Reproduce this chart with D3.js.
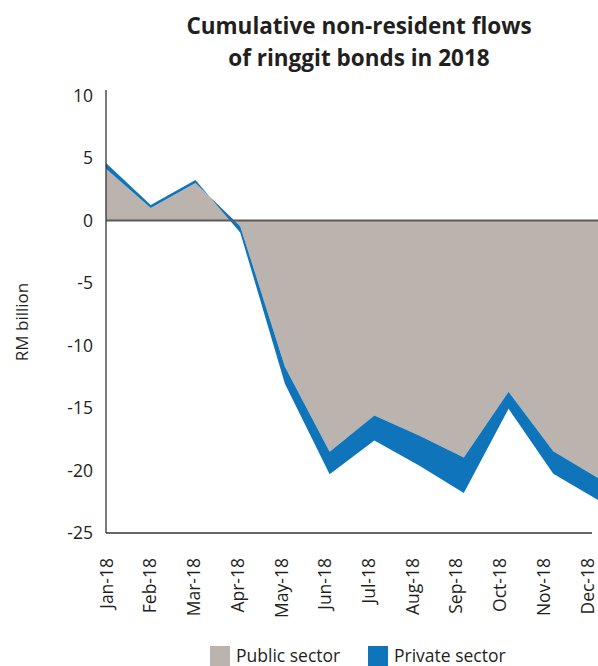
<!DOCTYPE html>
<html>
<head>
<meta charset="utf-8">
<script src="https://cdn.jsdelivr.net/npm/d3@7"></script>
<style>
  html, body { margin: 0; padding: 0; background: #fff; }
  svg { display: block; font-family: "Open Sans", "Noto Sans", sans-serif; }
</style>
</head>
<body>
<svg id="chart" width="598" height="666"></svg>
<script>
// Cumulative non-resident flows of ringgit bonds, RM billion
const months = ["Jan-18", "Feb-18", "Mar-18", "Apr-18", "May-18", "Jun-18",
                "Jul-18", "Aug-18", "Sep-18", "Oct-18", "Nov-18", "Dec-18"];
const publicSector  = [4.15, 1.0, 3.0, -0.45, -11.7, -18.5, -15.6, -17.2, -18.95, -13.7, -18.45, -20.6];
const privateSector = [0.45, 0.25, 0.25, -0.5, -1.35, -1.8, -2.0, -2.4, -2.85, -1.35, -1.8, -1.75];
const yTicks = [10, 5, 0, -5, -10, -15, -20, -25];
const seriesNames = ["Public sector", "Private sector"];

const colors = { public: "#bbb3ae", private: "#1074bb", text: "#231f20" };
const labelFont = 17.5;
const labelWeight = 400;

const svg = d3.select("#chart");

const x = d3.scalePoint().domain(months).range([106, 598]);
const xLabels = d3.scalePoint().domain(months).range([106, 587]);
const y = d3.scaleLinear().domain([-25, 10]).range([533, 95.5]);

const rows = months.map((m, i) => ({ m, pub: publicSector[i], tot: publicSector[i] + privateSector[i] }));

// Public sector area: from zero to the public value
svg.append("path")
  .datum(rows)
  .attr("fill", colors.public)
  .attr("d", d3.area().x(d => x(d.m)).y0(y(0)).y1(d => y(d.pub)));

// Private sector band stacked on the public value
svg.append("path")
  .datum(rows)
  .attr("fill", colors.private)
  .attr("d", d3.area().x(d => x(d.m)).y0(d => y(d.pub)).y1(d => y(d.tot)));

// Zero line
svg.append("line")
  .attr("x1", 106).attr("x2", 598)
  .attr("y1", y(0)).attr("y2", y(0))
  .attr("stroke", "#5b5b5b").attr("stroke-width", 2);

// Axis frame
svg.append("line")
  .attr("x1", 106).attr("x2", 106)
  .attr("y1", 90).attr("y2", y(-25))
  .attr("stroke", "#333").attr("stroke-width", 1.3);
svg.append("line")
  .attr("x1", 106).attr("x2", 592)
  .attr("y1", y(-25)).attr("y2", y(-25))
  .attr("stroke", "#333").attr("stroke-width", 1.3);

// Y axis labels (plain hyphen for negatives)
const yAxis = svg.append("g")
  .attr("transform", "translate(106,0)")
  .call(d3.axisLeft(y).tickValues(yTicks).tickSize(0).tickPadding(13).tickFormat(d => String(d)));
yAxis.select(".domain").remove();
yAxis.selectAll("text")
  .attr("font-size", labelFont).attr("font-weight", labelWeight).attr("fill", colors.text)
  .attr("font-family", "'Open Sans', sans-serif");

// X axis labels, rotated
const xAxis = svg.append("g")
  .attr("transform", `translate(0,${y(-25)})`)
  .call(d3.axisBottom(xLabels).tickSize(0).tickPadding(0));
xAxis.select(".domain").remove();
xAxis.selectAll("text")
  .attr("font-size", labelFont).attr("font-weight", labelWeight).attr("fill", colors.text)
  .attr("font-family", "'Open Sans', sans-serif")
  .attr("text-anchor", "end")
  .attr("dy", "0.35em")
  .attr("transform", "translate(0,25) rotate(-90)")
  .attr("x", 0).attr("y", 0);

// Y axis title
svg.append("text")
  .attr("transform", "translate(28,322) rotate(-90)")
  .attr("text-anchor", "middle")
  .attr("font-size", 17).attr("font-weight", labelWeight).attr("fill", colors.text)
  .text("RM billion");

// Chart title
const title = svg.append("text")
  .attr("text-anchor", "middle")
  .attr("font-size", 22.5).attr("font-weight", 700).attr("fill", colors.text);
title.append("tspan").attr("x", 359).attr("y", 34).text("Cumulative non-resident flows");
title.append("tspan").attr("x", 359).attr("y", 66).text("of ringgit bonds in 2018");

// Legend
const legendItems = [
  { name: seriesNames[0], color: colors.public, x: 210 },
  { name: seriesNames[1], color: colors.private, x: 368 }
];
const legend = svg.append("g");
legendItems.forEach(it => {
  legend.append("rect").attr("x", it.x).attr("y", 646).attr("width", 20).attr("height", 20).attr("fill", it.color);
  legend.append("text").attr("x", it.x + 26).attr("y", 662)
    .attr("font-size", labelFont).attr("font-weight", labelWeight).attr("fill", colors.text).text(it.name);
});
</script>
</body>
</html>
